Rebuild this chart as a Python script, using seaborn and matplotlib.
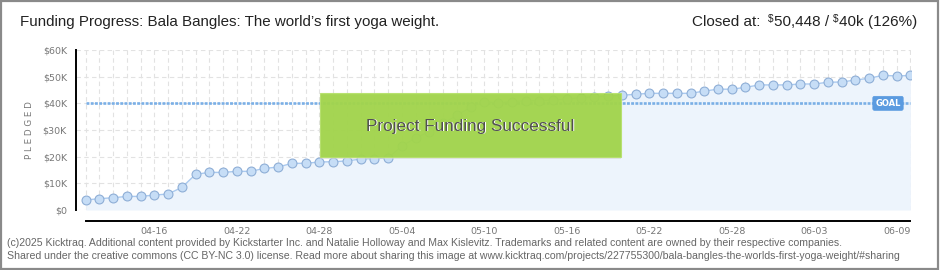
import matplotlib
matplotlib.use("Agg")
import matplotlib.pyplot as plt
import matplotlib.dates as mdates
import matplotlib.transforms as mtransforms
from matplotlib.patches import Rectangle
import seaborn as sns
import pandas as pd
import numpy as np

# ---------------- data ----------------
start_date = "2025-04-11"
pledged_k = [3.75, 4.25, 4.6, 5.1, 5.1, 5.6, 6.0, 8.5, 13.4, 14.1,
             14.1, 14.5, 14.5, 15.6, 16.1, 17.5, 17.5, 18.0, 18.1, 18.4,
             19.1, 19.3, 19.5, 24.0, 27.0, 29.4, 32.5, 35.5, 38.5, 40.6,
             40.2, 40.6, 41.0, 41.0, 41.25, 41.7, 42.1, 42.5, 42.75, 43.0,
             43.4, 43.75, 43.75, 43.75, 43.75, 44.6, 45.3, 45.3, 46.0, 46.9,
             46.9, 46.9, 47.25, 47.25, 47.9, 48.0, 48.75, 49.4, 50.5, 50.25,
             50.448]
goal_k = 40
label_dates = ["2025-04-16", "2025-04-22", "2025-04-28", "2025-05-04", "2025-05-10",
               "2025-05-16", "2025-05-22", "2025-05-28", "2025-06-03", "2025-06-09"]
y_ticks_k = [0, 10, 20, 30, 40, 50, 60]
y_tick_labels = ["$0", "$10K", "$20K", "$30K", "$40K", "$50K", "$60K"]
title = "Funding Progress: Bala Bangles: The world\u2019s first yoga weight."
closed_parts = [("Closed at:  ", 11.0, 0), ("$", 7.2, 3), ("50,448 / ", 11.0, 0),
                ("$", 7.2, 3), ("40k (126%)", 11.0, 0)]
footer1 = ("(c)2025 Kicktraq. Additional content provided by Kickstarter Inc. and Natalie Holloway "
           "and Max Kislevitz. Trademarks and related content are owned by their respective companies.")
footer2 = ("Shared under the creative commons (CC BY-NC 3.0) license. Read more about sharing this image "
           "at www.kicktraq.com/projects/227755300/bala-bangles-the-worlds-first-yoga-weight/#sharing")

dates = pd.date_range(start_date, periods=len(pledged_k), freq="D")
df = pd.DataFrame({"date": dates, "pledged": np.array(pledged_k) * 1000})

# ---------------- figure ----------------
sns.set_style("white")
plt.rcParams["font.family"] = ["DejaVu Sans"]
narrow = ["Liberation Sans", "DejaVu Sans"]

W, H = 940, 270
fig = plt.figure(figsize=(W / 100, H / 100), dpi=100)
fig.patch.set_facecolor("white")

def fx(px):
    return px / W

def fy(py):
    return 1 - py / H

ax = fig.add_axes([fx(76), fy(210), (911 - 76) / W, 160 / H])
ax.set_facecolor("white")

x0 = dates[0] - pd.Timedelta(hours=17)
x1 = dates[-1] + pd.Timedelta(hours=1)
ax.set_xlim(x0, x1)
ax.set_ylim(0, 60000)

ax.set_yticks([v * 1000 for v in y_ticks_k])
ax.set_yticklabels(y_tick_labels)
ax.yaxis.set_minor_locator(matplotlib.ticker.FixedLocator([5000, 15000, 25000, 35000, 45000, 55000]))
ax.set_xticks(pd.to_datetime(label_dates))
ax.xaxis.set_minor_locator(mdates.DayLocator())
ax.xaxis.set_major_formatter(mdates.DateFormatter("%m-%d"))

ax.grid(True, which="both", axis="x", color="#e2e2e2", linestyle=(0, (4, 3)), linewidth=0.8)
ax.grid(True, which="major", axis="y", color="#e2e2e2", linestyle=(0, (4, 3)), linewidth=0.8)
ax.set_axisbelow(True)

# fill + line
ax.fill_between(df["date"], 0, df["pledged"], color="#edf4fc", zorder=1, linewidth=0)
ax.hlines(goal_k * 1000, dates[0], dates[-1], colors="#7aafe6", linewidth=1.9,
          linestyles=[(0, (1.1, 0.5))], zorder=2)
sns.lineplot(data=df, x="date", y="pledged", ax=ax, color="#a9c9ef", linewidth=1.0,
             marker="o", markersize=6.4, markerfacecolor="#c6ddf6", markeredgecolor="#8eaed6",
             markeredgewidth=0.8, zorder=3)
ax.set_xlabel("")
ax.set_ylabel("P L E D G E D", fontsize=6.3, color="#777777", labelpad=6)

# spines
for s in ["top", "right"]:
    ax.spines[s].set_visible(False)
ax.spines["left"].set_color("black")
ax.spines["left"].set_linewidth(1.4)
ax.spines["bottom"].set_color("black")
ax.spines["bottom"].set_linewidth(1.4)
ax.spines["bottom"].set_position(("outward", 8))
ax.spines["bottom"].set_bounds(mdates.date2num(dates[0]), mdates.date2num(dates[-1]))

ax.tick_params(axis="x", which="both", direction="inout", length=6, width=1.2, color="black",
               labelsize=6.8, labelcolor="#777777", pad=1)
ax.tick_params(axis="y", which="major", direction="out", length=3.5, width=1.2, color="black",
               labelsize=6.8, labelcolor="#777777", pad=3)
ax.tick_params(axis="y", which="minor", direction="out", length=3.5, width=1.0, color="#dd0000")

# GOAL label
trans = mtransforms.blended_transform_factory(ax.transAxes, ax.transData)
ax.text((888 - 76) / 835, goal_k * 1000, "GOAL", transform=trans, ha="center", va="center",
        fontsize=6, color="white", fontweight="bold", zorder=6,
        bbox=dict(boxstyle="round,pad=0.3,rounding_size=0.2", facecolor="#5b9be0",
                  edgecolor="#5b9be0", linewidth=0.5))

# success box
bx0, bx1 = (320 - 76) / 835, (621 - 76) / 835
by0, by1 = (210 - 157) / 160, (210 - 93) / 160
ax.add_patch(Rectangle((bx0, by0 - 0.012), bx1 - bx0, by1 - by0, transform=ax.transAxes,
                       facecolor="#d8d8d8", edgecolor="none", alpha=0.6, zorder=7))
ax.add_patch(Rectangle((bx0, by0), bx1 - bx0, by1 - by0, transform=ax.transAxes,
                       facecolor="#9ed443", edgecolor="#b5e06a", linewidth=0.8, alpha=0.9, zorder=8))
cx, cy = (470 - 76) / 835, (210 - 126) / 160
shadow = mtransforms.offset_copy(ax.transAxes, fig=fig, x=1, y=-1, units="dots")
ax.text(cx, cy, "Project Funding Successful", transform=shadow, ha="center", va="center",
        fontsize=12.3, color="white", family=narrow, zorder=9)
ax.text(cx, cy, "Project Funding Successful", transform=ax.transAxes, ha="center", va="center",
        fontsize=12.3, color="#505050", family=narrow, zorder=10)

# title
fig.text(fx(20), fy(22), title, ha="left", va="center", fontsize=10.9, color="#222222", family=narrow)

# right-hand "Closed at" text, laid out right to left
renderer = fig.canvas.get_renderer()
x_right = 917
for txt, size, lift in reversed(closed_parts):
    t = fig.text(fx(x_right), fy(22 - lift), txt, ha="right", va="center", fontsize=size,
                 color="#222222", family=narrow)
    w = t.get_window_extent(renderer=renderer).width
    x_right -= w

# footer
fig.text(fx(7), fy(243), footer1, ha="left", va="center", fontsize=7.6, color="#666666", family=narrow)
fig.text(fx(7), fy(256), footer2, ha="left", va="center", fontsize=7.6, color="#666666", family=narrow)

# frame
fig.add_artist(Rectangle((0.001, 0.003), 0.997, 0.994, transform=fig.transFigure, fill=False,
                         edgecolor="#8a8a8a", linewidth=1.6))

fig.savefig("out.png", dpi=100, facecolor="white")
